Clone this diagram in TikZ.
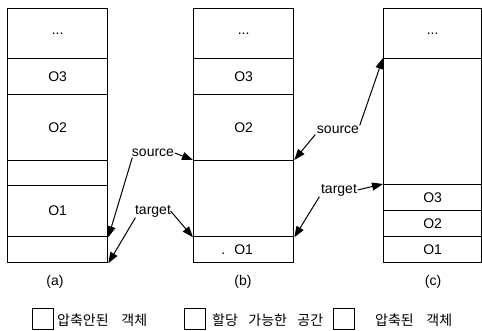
\documentclass[tikz,border=0pt]{standalone}
\usepackage{fontspec}
\setmainfont{Liberation Sans}
\newfontfamily\kofont{Noto Sans CJK KR}
\usetikzlibrary{arrows.meta}
\begin{document}
\begin{tikzpicture}[x=1pt,y=-1pt,
  cell/.style={draw, line width=1.3pt, inner sep=0pt, anchor=north west,
               font=\fontsize{14}{14}\selectfont},
  colab/.style={cell, minimum width=100pt},
  colc/.style={cell, minimum width=98pt},
  lbl/.style={inner sep=0.5pt, font=\fontsize{14}{14}\selectfont},
  arr/.style={-{Triangle[length=11pt,width=8pt]}, line width=1pt},
  legbox/.style={draw, line width=1.1pt, minimum width=21pt, minimum height=21pt, inner sep=0pt, anchor=north west},
  legtxt/.style={anchor=west, inner sep=0pt, font=\kofont\fontsize{14}{14}\selectfont}]
\useasboundingbox (0,0) rectangle (482,330);

% column (a)
\node[colab, minimum height=50pt] (aDots) at (7,8) {...};
\node[colab, minimum height=36pt] (aO3) at (7,58) {O3};
\node[colab, minimum height=66pt] (aO2) at (7,94) {O2};
\node[colab, minimum height=25pt] (aE1) at (7,160) {};
\node[colab, minimum height=51pt] (aO1) at (7,185) {O1};
\node[colab, minimum height=26pt] (aE2) at (7,236) {};

% column (b)
\node[colab, minimum height=50pt] (bDots) at (193,8) {...};
\node[colab, minimum height=36pt] (bO3) at (193,58) {O3};
\node[colab, minimum height=66pt] (bO2) at (193,94) {O2};
\node[colab, minimum height=76pt] (bE) at (193,160) {};
\node[colab, minimum height=26pt] (bO1) at (193,236) {\llap{.\hspace{9pt}}O1};

% column (c)
\node[colc, minimum height=50pt] (cDots) at (383,8) {...};
\node[colc, minimum height=126pt] (cE) at (383,58) {};
\node[colc, minimum height=26pt] (cO3) at (383,184) {O3};
\node[colc, minimum height=26pt] (cO2) at (383,210) {O2};
\node[colc, minimum height=26pt] (cO1) at (383,236) {O1};

% pointer labels
\node[lbl] (srcA) at (153,153) {source};
\node[lbl] (tgtA) at (153,211) {target};
\node[lbl] (srcC) at (338,130) {source};
\node[lbl] (tgtC) at (339,190) {target};

% arrows
\draw[arr] ([xshift=1pt]srcA.south west) -- (aO1.south east);
\draw[arr] (srcA.east) -- (bE.north west);
\draw[arr] ([xshift=1pt]tgtA.south west) -- (aE2.south east);
\draw[arr] ([xshift=-1pt]tgtA.east) -- (bE.south west);
\draw[arr] (srcC.north east) -- (cE.north west);
\draw[arr] ([xshift=-1pt]srcC.south west) -- (bE.north east);
\draw[arr] (tgtC.east) -- (cO3.north west);
\draw[arr] ([xshift=-1pt]tgtC.south west) -- (bE.south east);

% captions
\node[lbl] (capA) at (55,282) {(a)};
\node[lbl] (capB) at (243,282) {(b)};
\node[lbl] (capC) at (433,282) {(c)};

% legend
\node[legbox] (lb1) at (32,308) {};
\node[legtxt] (lt1) at (57,320) {\makebox[90pt][s]{압축안된 객체}};
\node[legbox] (lb2) at (184,308) {};
\node[legtxt] (lt2) at (212,320) {\makebox[111pt][s]{할당 가능한 공간}};
\node[legbox] (lb3) at (333,308) {};
\node[legtxt] (lt3) at (375,320) {\makebox[77pt][s]{압축된 객체}};
\end{tikzpicture}
\end{document}
